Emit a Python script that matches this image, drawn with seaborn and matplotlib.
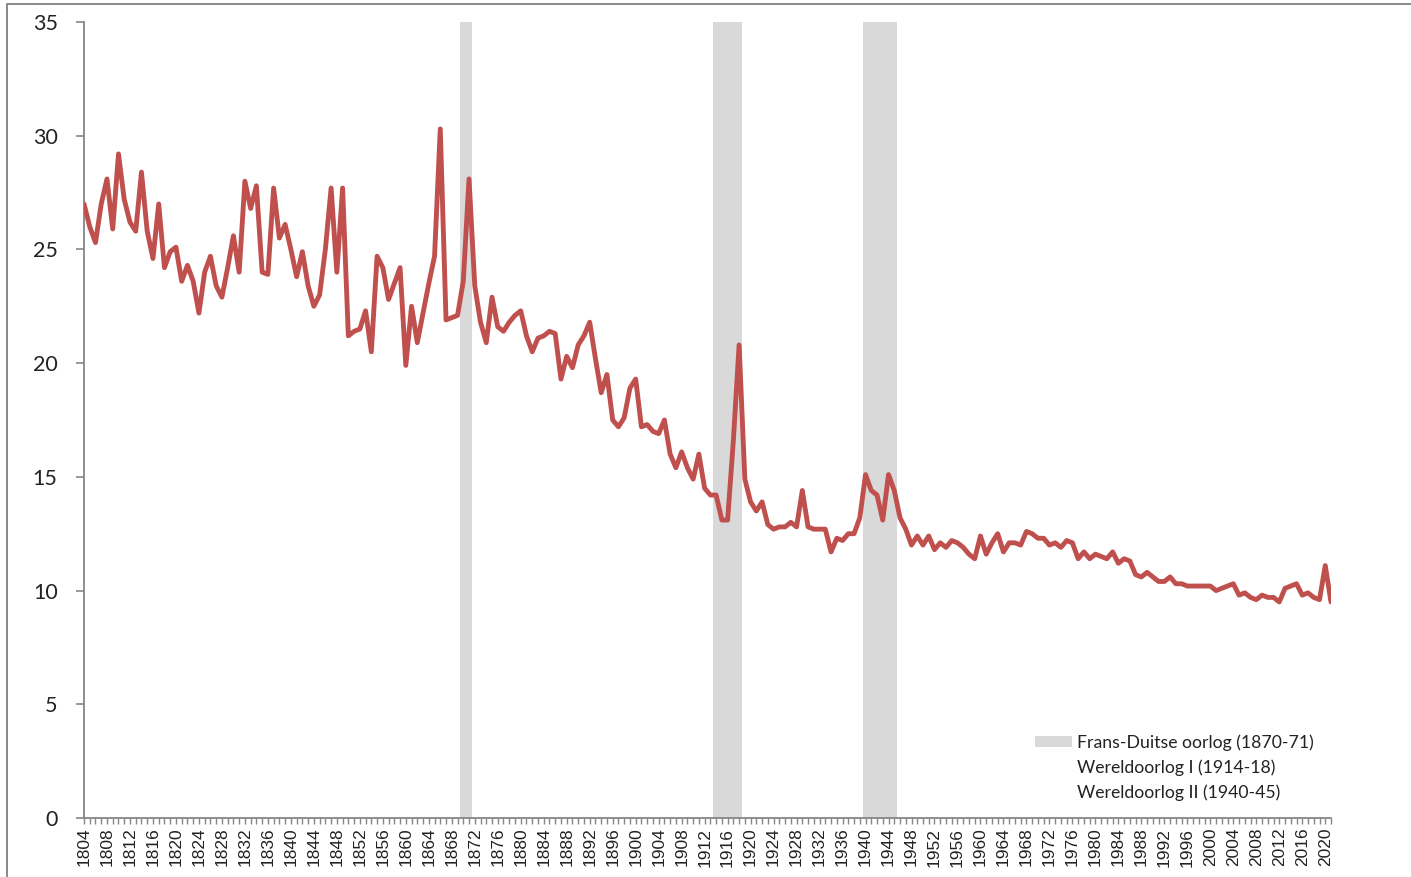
import numpy as np
import pandas as pd
import matplotlib
matplotlib.use("Agg")
import matplotlib.pyplot as plt
from matplotlib.patches import Patch
from matplotlib.lines import Line2D
import seaborn as sns

# yearly values 1804-2021
years = list(range(1804, 2022))
values = [
    27.0, 26.0, 25.3, 27.0, 28.1, 25.9,                          # 1804-1809
    29.2, 27.2, 26.2, 25.8, 28.4, 25.8, 24.6, 27.0, 24.2, 24.9,  # 1810s
    25.1, 23.6, 24.3, 23.6, 22.2, 24.0, 24.7, 23.4, 22.9, 24.2,  # 1820s
    25.6, 24.0, 28.0, 26.8, 27.8, 24.0, 23.9, 27.7, 25.5, 26.1,  # 1830s
    25.0, 23.8, 24.9, 23.4, 22.5, 23.0, 25.0, 27.7, 24.0, 27.7,  # 1840s
    21.2, 21.4, 21.5, 22.3, 20.5, 24.7, 24.2, 22.8, 23.5, 24.2,  # 1850s
    19.9, 22.5, 20.9, 22.2, 23.5, 24.7, 30.3, 21.9, 22.0, 22.1,  # 1860s
    23.6, 28.1, 23.4, 21.8, 20.9, 22.9, 21.6, 21.4, 21.8, 22.1,  # 1870s
    22.3, 21.2, 20.5, 21.1, 21.2, 21.4, 21.3, 19.3, 20.3, 19.8,  # 1880s
    20.8, 21.2, 21.8, 20.2, 18.7, 19.5, 17.5, 17.2, 17.6, 18.9,  # 1890s
    19.3, 17.2, 17.3, 17.0, 16.9, 17.5, 16.0, 15.4, 16.1, 15.4,  # 1900s
    14.9, 16.0, 14.5, 14.2, 14.2, 13.1, 13.1, 16.6, 20.8, 14.9,  # 1910s
    13.9, 13.5, 13.9, 12.9, 12.7, 12.8, 12.8, 13.0, 12.8, 14.4,  # 1920s
    12.8, 12.7, 12.7, 12.7, 11.7, 12.3, 12.2, 12.5, 12.5, 13.2,  # 1930s
    15.1, 14.4, 14.2, 13.1, 15.1, 14.4, 13.2, 12.7, 12.0, 12.4,  # 1940s
    12.0, 12.4, 11.8, 12.1, 11.9, 12.2, 12.1, 11.9, 11.6, 11.4,  # 1950s
    12.4, 11.6, 12.1, 12.5, 11.7, 12.1, 12.1, 12.0, 12.6, 12.5,  # 1960s
    12.3, 12.3, 12.0, 12.1, 11.9, 12.2, 12.1, 11.4, 11.7, 11.4,  # 1970s
    11.6, 11.5, 11.4, 11.7, 11.2, 11.4, 11.3, 10.7, 10.6, 10.8,  # 1980s
    10.6, 10.4, 10.4, 10.6, 10.3, 10.3, 10.2, 10.2, 10.2, 10.2,  # 1990s
    10.2, 10.0, 10.1, 10.2, 10.3, 9.8, 9.9, 9.7, 9.6, 9.8,       # 2000s
    9.7, 9.7, 9.5, 10.1, 10.2, 10.3, 9.8, 9.9, 9.7, 9.6,         # 2010s
    11.1, 9.5,                                                   # 2020-2021
]

war_labels = ["Frans-Duitse oorlog (1870-71)", "Wereldoorlog I (1914-18)", "Wereldoorlog II (1940-45)"]
war_start = [1870, 1914, 1940]
war_end = [1871, 1918, 1945]

df = pd.DataFrame({"jaar": years, "waarde": values})

sns.set_style("white")
plt.rcParams["font.family"] = ["Lato", "DejaVu Sans"]

W, H = 1411, 877
fig = plt.figure(figsize=(W / 100, H / 100), dpi=100)
ax = fig.add_axes([84 / W, 1 - 818 / H, (1331 - 84) / W, (818 - 22) / H])

for s, e in zip(war_start, war_end):
    ax.axvspan(s - 0.5, e + 0.5, ymin=0, ymax=1, color="#d9d9d9", lw=0, zorder=1)

sns.lineplot(data=df, x="jaar", y="waarde", color="#c0504d", lw=3.5, ax=ax, zorder=3)

ax.set_xlim(1804, 2021)
ax.set_ylim(0, 35)
ax.set_xlabel("")
ax.set_ylabel("")

ax.set_yticks(np.arange(0, 36, 5))
ax.tick_params(axis="y", which="major", direction="out", length=6, width=1.2,
               color="#868686", pad=13, labelsize=15.5, labelcolor="#222222", left=True)

ax.set_xticks(years[::4])
ax.set_xticks(years, minor=True)
ax.set_xticklabels([str(y) for y in years[::4]], rotation=90, fontsize=12.5,
                   family=["Liberation Sans", "DejaVu Sans"], color="#222222")
ax.tick_params(axis="x", which="both", direction="out", length=4, width=1.0,
               color="#868686", pad=3, bottom=True)

for side in ["top", "right"]:
    ax.spines[side].set_visible(False)
for side in ["left", "bottom"]:
    ax.spines[side].set_color("#868686")
    ax.spines[side].set_linewidth(1.3)

handles = [Patch(facecolor="#d9d9d9", edgecolor="none"),
           Patch(facecolor="none", edgecolor="none"),
           Patch(facecolor="none", edgecolor="none")]
fig.legend(handles, war_labels, loc="upper left",
           bbox_to_anchor=(1035 / W, 1 - 734 / H), frameon=False,
           fontsize=12.7, handlelength=2.1, handleheight=0.6, handletextpad=0.3,
           labelspacing=0.5, borderpad=0, borderaxespad=0, labelcolor="#222222")

# chart area border (only top and left visible)
fig.add_artist(Line2D([7 / W, 7 / W], [0, 1 - 4 / H], color="#898989", lw=1.4,
                      transform=fig.transFigure))
fig.add_artist(Line2D([7 / W, 1], [1 - 4 / H, 1 - 4 / H], color="#898989", lw=1.4,
                      transform=fig.transFigure))

fig.savefig("out.png", dpi=100)
